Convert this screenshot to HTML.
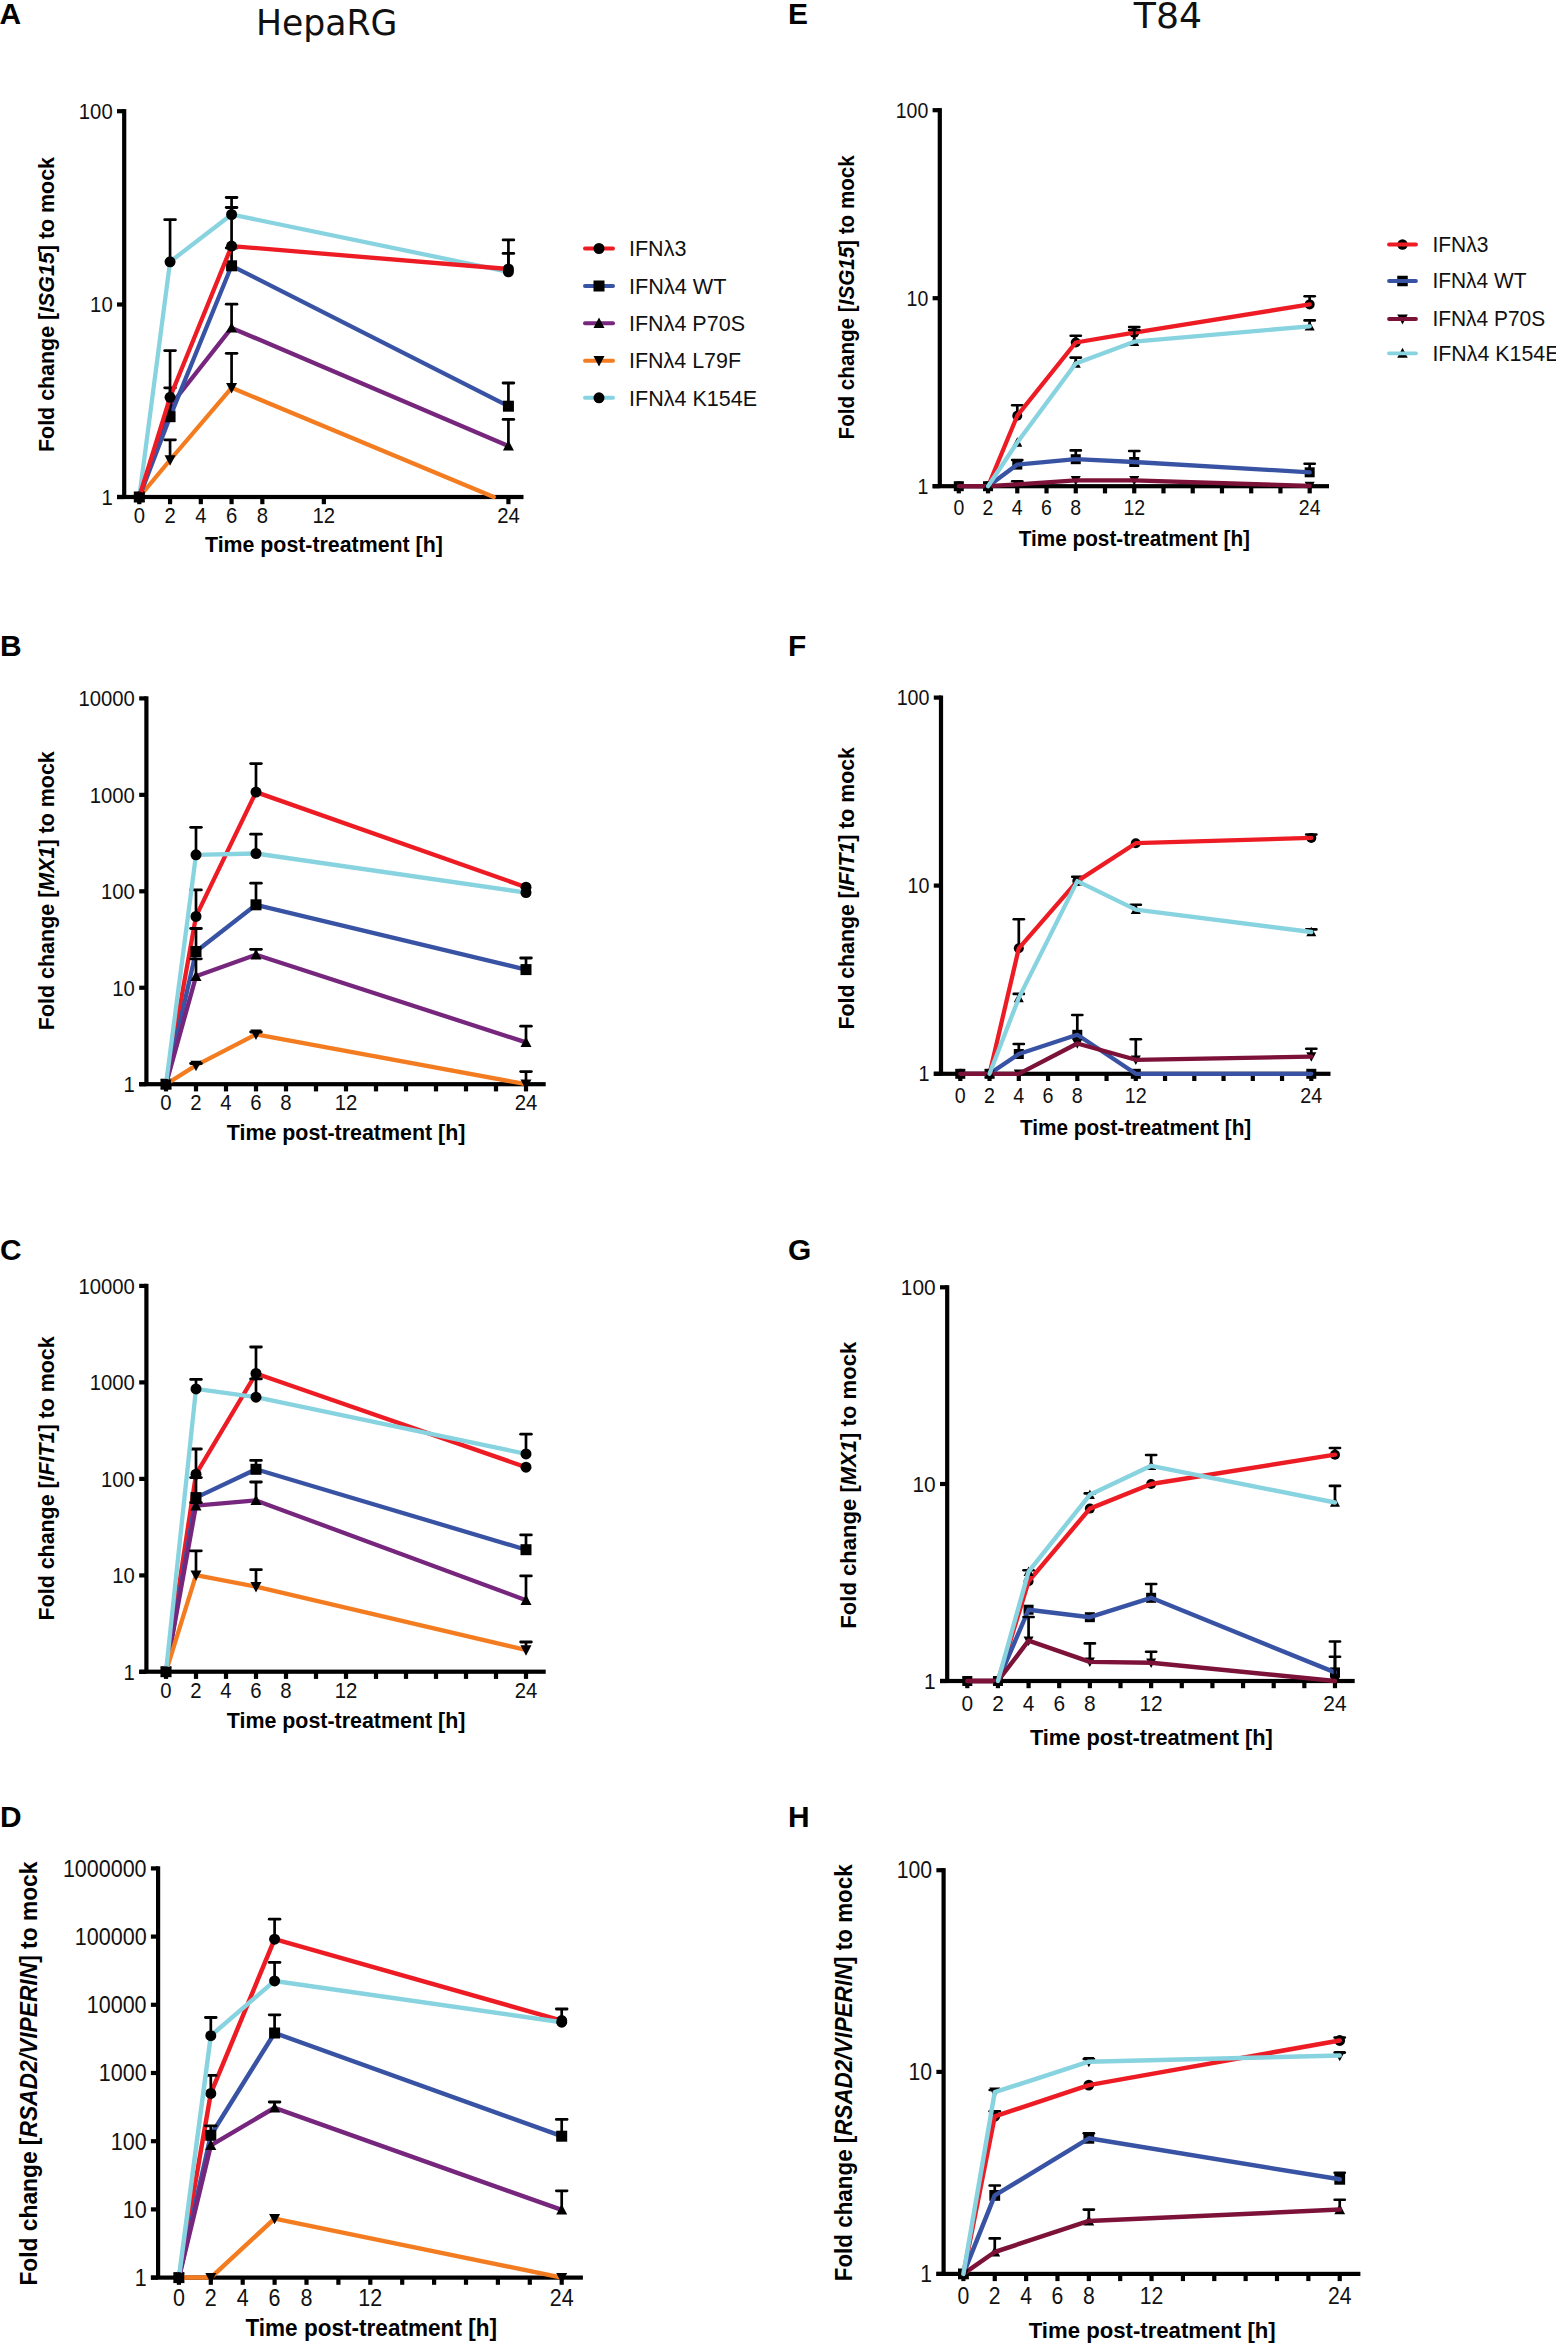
<!DOCTYPE html>
<html><head><meta charset="utf-8"><title>IFN lambda time course</title>
<style>html,body{margin:0;padding:0;background:#fff;}svg{display:block;}</style></head>
<body><svg width="1556" height="2343" viewBox="0 0 1556 2343">
<rect width="1556" height="2343" fill="#fff"/>
<g fill="#000" stroke="none">
<rect x="122.1" y="109.1" width="4.2" height="387.9"/>
<rect x="117" y="494.9" width="7.2" height="4.2"/>
<rect x="117" y="302.4" width="7.2" height="4.2"/>
<rect x="117" y="109.1" width="7.2" height="4.2"/>
<rect x="117" y="494.9" width="406.5" height="4.2"/>
<rect x="137.2" y="497" width="4.2" height="7.2"/>
<rect x="167.96" y="497" width="4.2" height="7.2"/>
<rect x="198.72" y="497" width="4.2" height="7.2"/>
<rect x="229.48" y="497" width="4.2" height="7.2"/>
<rect x="260.24" y="497" width="4.2" height="7.2"/>
<rect x="321.76" y="497" width="4.2" height="7.2"/>
<rect x="506.32" y="497" width="4.2" height="7.2"/>
</g>
<g font-family='"Liberation Sans", Arial, Helvetica, sans-serif' font-size="22.13" fill="#111" lengthAdjust="spacingAndGlyphs">
<text x="112.7" y="504.83" text-anchor="end" textLength="11.29" lengthAdjust="spacingAndGlyphs">1</text>
<text x="112.7" y="312.33" text-anchor="end" textLength="22.58" lengthAdjust="spacingAndGlyphs">10</text>
<text x="112.7" y="119.03" text-anchor="end" textLength="33.87" lengthAdjust="spacingAndGlyphs">100</text>
<text x="139.3" y="522.8" text-anchor="middle" textLength="11.29" lengthAdjust="spacingAndGlyphs">0</text>
<text x="170.06" y="522.8" text-anchor="middle" textLength="11.29" lengthAdjust="spacingAndGlyphs">2</text>
<text x="200.82" y="522.8" text-anchor="middle" textLength="11.29" lengthAdjust="spacingAndGlyphs">4</text>
<text x="231.58" y="522.8" text-anchor="middle" textLength="11.29" lengthAdjust="spacingAndGlyphs">6</text>
<text x="262.34" y="522.8" text-anchor="middle" textLength="11.29" lengthAdjust="spacingAndGlyphs">8</text>
<text x="323.86" y="522.8" text-anchor="middle" textLength="22.58" lengthAdjust="spacingAndGlyphs">12</text>
<text x="508.42" y="522.8" text-anchor="middle" textLength="22.58" lengthAdjust="spacingAndGlyphs">24</text>
</g>
<text x="205" y="552.3" font-family='"Liberation Sans", Arial, Helvetica, sans-serif' font-weight="bold" font-size="22.26" textLength="237.8" lengthAdjust="spacingAndGlyphs" fill="#000">Time post-treatment [h]</text>
<text transform="translate(53.7 452) rotate(-90)" font-family='"Liberation Sans", Arial, Helvetica, sans-serif' font-weight="bold" font-size="22.26" textLength="295" lengthAdjust="spacingAndGlyphs" fill="#000">Fold change [<tspan font-style="italic">ISG15</tspan>] to mock</text>
<text x="-0.6" y="23.8" font-family='"Liberation Sans", Arial, Helvetica, sans-serif' font-weight="bold" font-size="29.9" fill="#000">A</text>
<polyline points="139.3,497 170.06,261.8 231.58,214.5 508.42,271.8" fill="none" stroke="#88D3E0" stroke-width="4.3" stroke-linejoin="round" stroke-linecap="round"/><g stroke="#000"><line x1="170.06" y1="261.8" x2="170.06" y2="219.7" stroke-width="2.7"/><line x1="164.71" y1="219.7" x2="175.41" y2="219.7" stroke-width="2.8" stroke-linecap="round"/><line x1="231.58" y1="214.5" x2="231.58" y2="197.5" stroke-width="2.7"/><line x1="226.23" y1="197.5" x2="236.93" y2="197.5" stroke-width="2.8" stroke-linecap="round"/><line x1="508.42" y1="271.8" x2="508.42" y2="239.9" stroke-width="2.7"/><line x1="503.07" y1="239.9" x2="513.77" y2="239.9" stroke-width="2.8" stroke-linecap="round"/></g><g fill="#000"><circle cx="139.3" cy="497" r="5.5"/><circle cx="170.06" cy="261.8" r="5.5"/><circle cx="231.58" cy="214.5" r="5.5"/><circle cx="508.42" cy="271.8" r="5.5"/></g>
<polyline points="139.3,497 170.06,460 231.58,387.8 493.77,497" fill="none" stroke="#F47C20" stroke-width="4.3" stroke-linejoin="round" stroke-linecap="round"/><g stroke="#000"><line x1="170.06" y1="460" x2="170.06" y2="439.8" stroke-width="2.7"/><line x1="164.71" y1="439.8" x2="175.41" y2="439.8" stroke-width="2.8" stroke-linecap="round"/><line x1="231.58" y1="387.8" x2="231.58" y2="353.3" stroke-width="2.7"/><line x1="226.23" y1="353.3" x2="236.93" y2="353.3" stroke-width="2.8" stroke-linecap="round"/></g><g fill="#000"><path d="M139.3 502.75L144.8 492.3L133.8 492.3Z"/><path d="M170.06 465.75L175.56 455.3L164.56 455.3Z"/><path d="M231.58 393.55L237.08 383.1L226.08 383.1Z"/></g>
<polyline points="139.3,497 170.06,406 231.58,327.9 508.42,445.9" fill="none" stroke="#77267D" stroke-width="4.3" stroke-linejoin="round" stroke-linecap="round"/><g stroke="#000"><line x1="231.58" y1="327.9" x2="231.58" y2="304.2" stroke-width="2.7"/><line x1="226.23" y1="304.2" x2="236.93" y2="304.2" stroke-width="2.8" stroke-linecap="round"/><line x1="508.42" y1="445.9" x2="508.42" y2="419.4" stroke-width="2.7"/><line x1="503.07" y1="419.4" x2="513.77" y2="419.4" stroke-width="2.8" stroke-linecap="round"/></g><g fill="#000"><path d="M139.3 491.25L144.8 501.7L133.8 501.7Z"/><path d="M170.06 400.25L175.56 410.7L164.56 410.7Z"/><path d="M231.58 322.15L237.08 332.6L226.08 332.6Z"/><path d="M508.42 440.15L513.92 450.6L502.92 450.6Z"/></g>
<polyline points="139.3,497 170.06,416.7 231.58,265.8 508.42,406.2" fill="none" stroke="#3953A4" stroke-width="4.3" stroke-linejoin="round" stroke-linecap="round"/><g stroke="#000"><line x1="170.06" y1="416.7" x2="170.06" y2="387.8" stroke-width="2.7"/><line x1="164.71" y1="387.8" x2="175.41" y2="387.8" stroke-width="2.8" stroke-linecap="round"/><line x1="231.58" y1="265.8" x2="231.58" y2="248" stroke-width="2.7"/><line x1="226.23" y1="248" x2="236.93" y2="248" stroke-width="2.8" stroke-linecap="round"/><line x1="508.42" y1="406.2" x2="508.42" y2="383" stroke-width="2.7"/><line x1="503.07" y1="383" x2="513.77" y2="383" stroke-width="2.8" stroke-linecap="round"/></g><g fill="#000"><rect x="133.8" y="491.5" width="11" height="11"/><rect x="164.56" y="411.2" width="11" height="11"/><rect x="226.08" y="260.3" width="11" height="11"/><rect x="502.92" y="400.7" width="11" height="11"/></g>
<polyline points="139.3,497 170.06,397.3 231.58,246.1 508.42,269" fill="none" stroke="#ED1C24" stroke-width="4.3" stroke-linejoin="round" stroke-linecap="round"/><g stroke="#000"><line x1="170.06" y1="397.3" x2="170.06" y2="350.6" stroke-width="2.7"/><line x1="164.71" y1="350.6" x2="175.41" y2="350.6" stroke-width="2.8" stroke-linecap="round"/><line x1="231.58" y1="246.1" x2="231.58" y2="207.5" stroke-width="2.7"/><line x1="226.23" y1="207.5" x2="236.93" y2="207.5" stroke-width="2.8" stroke-linecap="round"/><line x1="508.42" y1="269" x2="508.42" y2="253.4" stroke-width="2.7"/><line x1="503.07" y1="253.4" x2="513.77" y2="253.4" stroke-width="2.8" stroke-linecap="round"/></g><g fill="#000"><circle cx="139.3" cy="497" r="5.5"/><circle cx="170.06" cy="397.3" r="5.5"/><circle cx="231.58" cy="246.1" r="5.5"/><circle cx="508.42" cy="269" r="5.5"/></g>
<g fill="#000" stroke="none">
<rect x="144.3" y="696.3" width="4.2" height="387.9"/>
<rect x="139.2" y="1082.1" width="7.2" height="4.2"/>
<rect x="139.2" y="985.65" width="7.2" height="4.2"/>
<rect x="139.2" y="889.2" width="7.2" height="4.2"/>
<rect x="139.2" y="792.75" width="7.2" height="4.2"/>
<rect x="139.2" y="696.3" width="7.2" height="4.2"/>
<rect x="139.2" y="1082.1" width="406.5" height="4.2"/>
<rect x="163.9" y="1084.2" width="4.2" height="7.2"/>
<rect x="193.9" y="1084.2" width="4.2" height="7.2"/>
<rect x="223.9" y="1084.2" width="4.2" height="7.2"/>
<rect x="253.9" y="1084.2" width="4.2" height="7.2"/>
<rect x="283.9" y="1084.2" width="4.2" height="7.2"/>
<rect x="313.9" y="1084.2" width="4.2" height="7.2"/>
<rect x="343.9" y="1084.2" width="4.2" height="7.2"/>
<rect x="373.9" y="1084.2" width="4.2" height="7.2"/>
<rect x="403.9" y="1084.2" width="4.2" height="7.2"/>
<rect x="433.9" y="1084.2" width="4.2" height="7.2"/>
<rect x="463.9" y="1084.2" width="4.2" height="7.2"/>
<rect x="493.9" y="1084.2" width="4.2" height="7.2"/>
<rect x="523.9" y="1084.2" width="4.2" height="7.2"/>
</g>
<g font-family='"Liberation Sans", Arial, Helvetica, sans-serif' font-size="22.13" fill="#111" lengthAdjust="spacingAndGlyphs">
<text x="134.9" y="1092.03" text-anchor="end" textLength="11.29" lengthAdjust="spacingAndGlyphs">1</text>
<text x="134.9" y="995.58" text-anchor="end" textLength="22.58" lengthAdjust="spacingAndGlyphs">10</text>
<text x="134.9" y="899.13" text-anchor="end" textLength="33.87" lengthAdjust="spacingAndGlyphs">100</text>
<text x="134.9" y="802.68" text-anchor="end" textLength="45.16" lengthAdjust="spacingAndGlyphs">1000</text>
<text x="134.9" y="706.23" text-anchor="end" textLength="56.45" lengthAdjust="spacingAndGlyphs">10000</text>
<text x="166" y="1110" text-anchor="middle" textLength="11.29" lengthAdjust="spacingAndGlyphs">0</text>
<text x="196" y="1110" text-anchor="middle" textLength="11.29" lengthAdjust="spacingAndGlyphs">2</text>
<text x="226" y="1110" text-anchor="middle" textLength="11.29" lengthAdjust="spacingAndGlyphs">4</text>
<text x="256" y="1110" text-anchor="middle" textLength="11.29" lengthAdjust="spacingAndGlyphs">6</text>
<text x="286" y="1110" text-anchor="middle" textLength="11.29" lengthAdjust="spacingAndGlyphs">8</text>
<text x="346" y="1110" text-anchor="middle" textLength="22.58" lengthAdjust="spacingAndGlyphs">12</text>
<text x="526" y="1110" text-anchor="middle" textLength="22.58" lengthAdjust="spacingAndGlyphs">24</text>
</g>
<text x="226.8" y="1140" font-family='"Liberation Sans", Arial, Helvetica, sans-serif' font-weight="bold" font-size="22.26" textLength="238.6" lengthAdjust="spacingAndGlyphs" fill="#000">Time post-treatment [h]</text>
<text transform="translate(53.7 1030.2) rotate(-90)" font-family='"Liberation Sans", Arial, Helvetica, sans-serif' font-weight="bold" font-size="22.26" textLength="279" lengthAdjust="spacingAndGlyphs" fill="#000">Fold change [<tspan font-style="italic">MX1</tspan>] to mock</text>
<text x="0" y="655.6" font-family='"Liberation Sans", Arial, Helvetica, sans-serif' font-weight="bold" font-size="29.9" fill="#000">B</text>
<polyline points="166,1084.2 196,916.4 256,792.1 526,887.2" fill="none" stroke="#ED1C24" stroke-width="4.3" stroke-linejoin="round" stroke-linecap="round"/><g stroke="#000"><line x1="196" y1="916.4" x2="196" y2="889.9" stroke-width="2.7"/><line x1="190.65" y1="889.9" x2="201.35" y2="889.9" stroke-width="2.8" stroke-linecap="round"/><line x1="256" y1="792.1" x2="256" y2="763.6" stroke-width="2.7"/><line x1="250.65" y1="763.6" x2="261.35" y2="763.6" stroke-width="2.8" stroke-linecap="round"/></g><g fill="#000"><circle cx="166" cy="1084.2" r="5.5"/><circle cx="196" cy="916.4" r="5.5"/><circle cx="256" cy="792.1" r="5.5"/><circle cx="526" cy="887.2" r="5.5"/></g>
<polyline points="166,1084.2 196,951.5 256,904.8 526,969.6" fill="none" stroke="#3953A4" stroke-width="4.3" stroke-linejoin="round" stroke-linecap="round"/><g stroke="#000"><line x1="196" y1="951.5" x2="196" y2="928.5" stroke-width="2.7"/><line x1="190.65" y1="928.5" x2="201.35" y2="928.5" stroke-width="2.8" stroke-linecap="round"/><line x1="256" y1="904.8" x2="256" y2="883.2" stroke-width="2.7"/><line x1="250.65" y1="883.2" x2="261.35" y2="883.2" stroke-width="2.8" stroke-linecap="round"/><line x1="526" y1="969.6" x2="526" y2="958" stroke-width="2.7"/><line x1="520.65" y1="958" x2="531.35" y2="958" stroke-width="2.8" stroke-linecap="round"/></g><g fill="#000"><rect x="160.5" y="1078.7" width="11" height="11"/><rect x="190.5" y="946" width="11" height="11"/><rect x="250.5" y="899.3" width="11" height="11"/><rect x="520.5" y="964.1" width="11" height="11"/></g>
<polyline points="166,1084.2 196,976.3 256,954.7 526,1042.4" fill="none" stroke="#77267D" stroke-width="4.3" stroke-linejoin="round" stroke-linecap="round"/><g stroke="#000"><line x1="196" y1="976.3" x2="196" y2="958.8" stroke-width="2.7"/><line x1="190.65" y1="958.8" x2="201.35" y2="958.8" stroke-width="2.8" stroke-linecap="round"/><line x1="256" y1="954.7" x2="256" y2="949.3" stroke-width="2.7"/><line x1="250.65" y1="949.3" x2="261.35" y2="949.3" stroke-width="2.8" stroke-linecap="round"/><line x1="526" y1="1042.4" x2="526" y2="1026.2" stroke-width="2.7"/><line x1="520.65" y1="1026.2" x2="531.35" y2="1026.2" stroke-width="2.8" stroke-linecap="round"/></g><g fill="#000"><path d="M166 1078.45L171.5 1088.9L160.5 1088.9Z"/><path d="M196 970.55L201.5 981L190.5 981Z"/><path d="M256 948.95L261.5 959.4L250.5 959.4Z"/><path d="M526 1036.65L531.5 1047.1L520.5 1047.1Z"/></g>
<polyline points="166,1084.2 196,1065.4 256,1034.3 526,1084.2" fill="none" stroke="#F47C20" stroke-width="4.3" stroke-linejoin="round" stroke-linecap="round"/><g stroke="#000"><line x1="196" y1="1065.4" x2="196" y2="1063.5" stroke-width="2.7"/><line x1="190.65" y1="1063.5" x2="201.35" y2="1063.5" stroke-width="2.8" stroke-linecap="round"/><line x1="256" y1="1034.3" x2="256" y2="1032" stroke-width="2.7"/><line x1="250.65" y1="1032" x2="261.35" y2="1032" stroke-width="2.8" stroke-linecap="round"/><line x1="526" y1="1084.2" x2="526" y2="1071.6" stroke-width="2.7"/><line x1="520.65" y1="1071.6" x2="531.35" y2="1071.6" stroke-width="2.8" stroke-linecap="round"/></g><g fill="#000"><path d="M166 1089.95L171.5 1079.5L160.5 1079.5Z"/><path d="M196 1071.15L201.5 1060.7L190.5 1060.7Z"/><path d="M256 1040.05L261.5 1029.6L250.5 1029.6Z"/><path d="M526 1089.95L531.5 1079.5L520.5 1079.5Z"/></g>
<polyline points="166,1084.2 196,854.8 256,853.5 526,892.6" fill="none" stroke="#88D3E0" stroke-width="4.3" stroke-linejoin="round" stroke-linecap="round"/><g stroke="#000"><line x1="196" y1="854.8" x2="196" y2="827.3" stroke-width="2.7"/><line x1="190.65" y1="827.3" x2="201.35" y2="827.3" stroke-width="2.8" stroke-linecap="round"/><line x1="256" y1="853.5" x2="256" y2="834.2" stroke-width="2.7"/><line x1="250.65" y1="834.2" x2="261.35" y2="834.2" stroke-width="2.8" stroke-linecap="round"/></g><g fill="#000"><circle cx="166" cy="1084.2" r="5.5"/><circle cx="196" cy="854.8" r="5.5"/><circle cx="256" cy="853.5" r="5.5"/><circle cx="526" cy="892.6" r="5.5"/></g>
<g fill="#000" stroke="none">
<rect x="144.3" y="1283.8" width="4.2" height="387.9"/>
<rect x="139.2" y="1669.8" width="7.2" height="4.2"/>
<rect x="139.2" y="1573.3" width="7.2" height="4.2"/>
<rect x="139.2" y="1476.8" width="7.2" height="4.2"/>
<rect x="139.2" y="1380.3" width="7.2" height="4.2"/>
<rect x="139.2" y="1283.8" width="7.2" height="4.2"/>
<rect x="139.2" y="1669.6" width="406.5" height="4.2"/>
<rect x="163.9" y="1671.7" width="4.2" height="7.2"/>
<rect x="193.9" y="1671.7" width="4.2" height="7.2"/>
<rect x="223.9" y="1671.7" width="4.2" height="7.2"/>
<rect x="253.9" y="1671.7" width="4.2" height="7.2"/>
<rect x="283.9" y="1671.7" width="4.2" height="7.2"/>
<rect x="313.9" y="1671.7" width="4.2" height="7.2"/>
<rect x="343.9" y="1671.7" width="4.2" height="7.2"/>
<rect x="373.9" y="1671.7" width="4.2" height="7.2"/>
<rect x="403.9" y="1671.7" width="4.2" height="7.2"/>
<rect x="433.9" y="1671.7" width="4.2" height="7.2"/>
<rect x="463.9" y="1671.7" width="4.2" height="7.2"/>
<rect x="493.9" y="1671.7" width="4.2" height="7.2"/>
<rect x="523.9" y="1671.7" width="4.2" height="7.2"/>
</g>
<g font-family='"Liberation Sans", Arial, Helvetica, sans-serif' font-size="22.13" fill="#111" lengthAdjust="spacingAndGlyphs">
<text x="134.9" y="1679.73" text-anchor="end" textLength="11.29" lengthAdjust="spacingAndGlyphs">1</text>
<text x="134.9" y="1583.23" text-anchor="end" textLength="22.58" lengthAdjust="spacingAndGlyphs">10</text>
<text x="134.9" y="1486.73" text-anchor="end" textLength="33.87" lengthAdjust="spacingAndGlyphs">100</text>
<text x="134.9" y="1390.23" text-anchor="end" textLength="45.16" lengthAdjust="spacingAndGlyphs">1000</text>
<text x="134.9" y="1293.73" text-anchor="end" textLength="56.45" lengthAdjust="spacingAndGlyphs">10000</text>
<text x="166" y="1697.5" text-anchor="middle" textLength="11.29" lengthAdjust="spacingAndGlyphs">0</text>
<text x="196" y="1697.5" text-anchor="middle" textLength="11.29" lengthAdjust="spacingAndGlyphs">2</text>
<text x="226" y="1697.5" text-anchor="middle" textLength="11.29" lengthAdjust="spacingAndGlyphs">4</text>
<text x="256" y="1697.5" text-anchor="middle" textLength="11.29" lengthAdjust="spacingAndGlyphs">6</text>
<text x="286" y="1697.5" text-anchor="middle" textLength="11.29" lengthAdjust="spacingAndGlyphs">8</text>
<text x="346" y="1697.5" text-anchor="middle" textLength="22.58" lengthAdjust="spacingAndGlyphs">12</text>
<text x="526" y="1697.5" text-anchor="middle" textLength="22.58" lengthAdjust="spacingAndGlyphs">24</text>
</g>
<text x="226.8" y="1727.7" font-family='"Liberation Sans", Arial, Helvetica, sans-serif' font-weight="bold" font-size="22.26" textLength="238.6" lengthAdjust="spacingAndGlyphs" fill="#000">Time post-treatment [h]</text>
<text transform="translate(53.7 1620.4) rotate(-90)" font-family='"Liberation Sans", Arial, Helvetica, sans-serif' font-weight="bold" font-size="22.26" textLength="284" lengthAdjust="spacingAndGlyphs" fill="#000">Fold change [<tspan font-style="italic">IFIT1</tspan>] to mock</text>
<text x="0" y="1260.1" font-family='"Liberation Sans", Arial, Helvetica, sans-serif' font-weight="bold" font-size="29.9" fill="#000">C</text>
<polyline points="166,1671.7 196,1474.2 256,1373.5 526,1467.2" fill="none" stroke="#ED1C24" stroke-width="4.3" stroke-linejoin="round" stroke-linecap="round"/><g stroke="#000"><line x1="196" y1="1474.2" x2="196" y2="1449" stroke-width="2.7"/><line x1="190.65" y1="1449" x2="201.35" y2="1449" stroke-width="2.8" stroke-linecap="round"/><line x1="256" y1="1373.5" x2="256" y2="1347" stroke-width="2.7"/><line x1="250.65" y1="1347" x2="261.35" y2="1347" stroke-width="2.8" stroke-linecap="round"/></g><g fill="#000"><circle cx="166" cy="1671.7" r="5.5"/><circle cx="196" cy="1474.2" r="5.5"/><circle cx="256" cy="1373.5" r="5.5"/><circle cx="526" cy="1467.2" r="5.5"/></g>
<polyline points="166,1671.7 196,1497.6 256,1469.3 526,1549.7" fill="none" stroke="#3953A4" stroke-width="4.3" stroke-linejoin="round" stroke-linecap="round"/><g stroke="#000"><line x1="196" y1="1497.6" x2="196" y2="1477.6" stroke-width="2.7"/><line x1="190.65" y1="1477.6" x2="201.35" y2="1477.6" stroke-width="2.8" stroke-linecap="round"/><line x1="256" y1="1469.3" x2="256" y2="1460.4" stroke-width="2.7"/><line x1="250.65" y1="1460.4" x2="261.35" y2="1460.4" stroke-width="2.8" stroke-linecap="round"/><line x1="526" y1="1549.7" x2="526" y2="1534.9" stroke-width="2.7"/><line x1="520.65" y1="1534.9" x2="531.35" y2="1534.9" stroke-width="2.8" stroke-linecap="round"/></g><g fill="#000"><rect x="160.5" y="1666.2" width="11" height="11"/><rect x="190.5" y="1492.1" width="11" height="11"/><rect x="250.5" y="1463.8" width="11" height="11"/><rect x="520.5" y="1544.2" width="11" height="11"/></g>
<polyline points="166,1671.7 196,1505.7 256,1500.4 526,1600.2" fill="none" stroke="#77267D" stroke-width="4.3" stroke-linejoin="round" stroke-linecap="round"/><g stroke="#000"><line x1="196" y1="1505.7" x2="196" y2="1502.6" stroke-width="2.7"/><line x1="190.65" y1="1502.6" x2="201.35" y2="1502.6" stroke-width="2.8" stroke-linecap="round"/><line x1="256" y1="1500.4" x2="256" y2="1482" stroke-width="2.7"/><line x1="250.65" y1="1482" x2="261.35" y2="1482" stroke-width="2.8" stroke-linecap="round"/><line x1="526" y1="1600.2" x2="526" y2="1575.9" stroke-width="2.7"/><line x1="520.65" y1="1575.9" x2="531.35" y2="1575.9" stroke-width="2.8" stroke-linecap="round"/></g><g fill="#000"><path d="M166 1665.95L171.5 1676.4L160.5 1676.4Z"/><path d="M196 1499.95L201.5 1510.4L190.5 1510.4Z"/><path d="M256 1494.65L261.5 1505.1L250.5 1505.1Z"/><path d="M526 1594.45L531.5 1604.9L520.5 1604.9Z"/></g>
<polyline points="166,1671.7 196,1575.1 256,1586.7 526,1650" fill="none" stroke="#F47C20" stroke-width="4.3" stroke-linejoin="round" stroke-linecap="round"/><g stroke="#000"><line x1="196" y1="1575.1" x2="196" y2="1550.8" stroke-width="2.7"/><line x1="190.65" y1="1550.8" x2="201.35" y2="1550.8" stroke-width="2.8" stroke-linecap="round"/><line x1="256" y1="1586.7" x2="256" y2="1569.7" stroke-width="2.7"/><line x1="250.65" y1="1569.7" x2="261.35" y2="1569.7" stroke-width="2.8" stroke-linecap="round"/><line x1="526" y1="1650" x2="526" y2="1642" stroke-width="2.7"/><line x1="520.65" y1="1642" x2="531.35" y2="1642" stroke-width="2.8" stroke-linecap="round"/></g><g fill="#000"><path d="M166 1677.45L171.5 1667L160.5 1667Z"/><path d="M196 1580.85L201.5 1570.4L190.5 1570.4Z"/><path d="M256 1592.45L261.5 1582L250.5 1582Z"/><path d="M526 1655.75L531.5 1645.3L520.5 1645.3Z"/></g>
<polyline points="166,1671.7 196,1388.9 256,1397.2 526,1453.9" fill="none" stroke="#88D3E0" stroke-width="4.3" stroke-linejoin="round" stroke-linecap="round"/><g stroke="#000"><line x1="196" y1="1388.9" x2="196" y2="1379.4" stroke-width="2.7"/><line x1="190.65" y1="1379.4" x2="201.35" y2="1379.4" stroke-width="2.8" stroke-linecap="round"/><line x1="256" y1="1397.2" x2="256" y2="1378.9" stroke-width="2.7"/><line x1="250.65" y1="1378.9" x2="261.35" y2="1378.9" stroke-width="2.8" stroke-linecap="round"/><line x1="526" y1="1453.9" x2="526" y2="1434.2" stroke-width="2.7"/><line x1="520.65" y1="1434.2" x2="531.35" y2="1434.2" stroke-width="2.8" stroke-linecap="round"/></g><g fill="#000"><circle cx="166" cy="1671.7" r="5.5"/><circle cx="196" cy="1388.9" r="5.5"/><circle cx="256" cy="1397.2" r="5.5"/><circle cx="526" cy="1453.9" r="5.5"/></g>
<g fill="#000" stroke="none">
<rect x="156" y="1866.3" width="4.2" height="411.3"/>
<rect x="150.9" y="2275.5" width="7.2" height="4.2"/>
<rect x="150.9" y="2207.3" width="7.2" height="4.2"/>
<rect x="150.9" y="2139.1" width="7.2" height="4.2"/>
<rect x="150.9" y="2070.9" width="7.2" height="4.2"/>
<rect x="150.9" y="2002.7" width="7.2" height="4.2"/>
<rect x="150.9" y="1934.5" width="7.2" height="4.2"/>
<rect x="150.9" y="1866.3" width="7.2" height="4.2"/>
<rect x="150.9" y="2275.5" width="432" height="4.2"/>
<rect x="176.8" y="2277.6" width="4.2" height="7.2"/>
<rect x="208.7" y="2277.6" width="4.2" height="7.2"/>
<rect x="240.6" y="2277.6" width="4.2" height="7.2"/>
<rect x="272.5" y="2277.6" width="4.2" height="7.2"/>
<rect x="304.4" y="2277.6" width="4.2" height="7.2"/>
<rect x="336.3" y="2277.6" width="4.2" height="7.2"/>
<rect x="368.2" y="2277.6" width="4.2" height="7.2"/>
<rect x="400.1" y="2277.6" width="4.2" height="7.2"/>
<rect x="432" y="2277.6" width="4.2" height="7.2"/>
<rect x="463.9" y="2277.6" width="4.2" height="7.2"/>
<rect x="495.8" y="2277.6" width="4.2" height="7.2"/>
<rect x="527.7" y="2277.6" width="4.2" height="7.2"/>
<rect x="559.6" y="2277.6" width="4.2" height="7.2"/>
</g>
<g font-family='"Liberation Sans", Arial, Helvetica, sans-serif' font-size="23.44" fill="#111" lengthAdjust="spacingAndGlyphs">
<text x="146.6" y="2285.9" text-anchor="end" textLength="11.96" lengthAdjust="spacingAndGlyphs">1</text>
<text x="146.6" y="2217.7" text-anchor="end" textLength="23.92" lengthAdjust="spacingAndGlyphs">10</text>
<text x="146.6" y="2149.5" text-anchor="end" textLength="35.87" lengthAdjust="spacingAndGlyphs">100</text>
<text x="146.6" y="2081.3" text-anchor="end" textLength="47.83" lengthAdjust="spacingAndGlyphs">1000</text>
<text x="146.6" y="2013.1" text-anchor="end" textLength="59.79" lengthAdjust="spacingAndGlyphs">10000</text>
<text x="146.6" y="1944.9" text-anchor="end" textLength="71.75" lengthAdjust="spacingAndGlyphs">100000</text>
<text x="146.6" y="1876.7" text-anchor="end" textLength="83.71" lengthAdjust="spacingAndGlyphs">1000000</text>
<text x="178.9" y="2305.5" text-anchor="middle" textLength="11.96" lengthAdjust="spacingAndGlyphs">0</text>
<text x="210.8" y="2305.5" text-anchor="middle" textLength="11.96" lengthAdjust="spacingAndGlyphs">2</text>
<text x="242.7" y="2305.5" text-anchor="middle" textLength="11.96" lengthAdjust="spacingAndGlyphs">4</text>
<text x="274.6" y="2305.5" text-anchor="middle" textLength="11.96" lengthAdjust="spacingAndGlyphs">6</text>
<text x="306.5" y="2305.5" text-anchor="middle" textLength="11.96" lengthAdjust="spacingAndGlyphs">8</text>
<text x="370.3" y="2305.5" text-anchor="middle" textLength="23.92" lengthAdjust="spacingAndGlyphs">12</text>
<text x="561.7" y="2305.5" text-anchor="middle" textLength="23.92" lengthAdjust="spacingAndGlyphs">24</text>
</g>
<text x="245.4" y="2336.3" font-family='"Liberation Sans", Arial, Helvetica, sans-serif' font-weight="bold" font-size="23.5" textLength="251.6" lengthAdjust="spacingAndGlyphs" fill="#000">Time post-treatment [h]</text>
<text transform="translate(36.8 2285.6) rotate(-90)" font-family='"Liberation Sans", Arial, Helvetica, sans-serif' font-weight="bold" font-size="23.5" textLength="424" lengthAdjust="spacingAndGlyphs" fill="#000">Fold change [<tspan font-style="italic">RSAD2/VIPERIN</tspan>] to mock</text>
<text x="0" y="1827.3" font-family='"Liberation Sans", Arial, Helvetica, sans-serif' font-weight="bold" font-size="29.9" fill="#000">D</text>
<polyline points="178.9,2277.6 210.8,2093.4 274.6,1939.2 561.7,2020.6" fill="none" stroke="#ED1C24" stroke-width="4.5" stroke-linejoin="round" stroke-linecap="round"/><g stroke="#000"><line x1="210.8" y1="2093.4" x2="210.8" y2="2075.4" stroke-width="2.7"/><line x1="205.45" y1="2075.4" x2="216.15" y2="2075.4" stroke-width="2.8" stroke-linecap="round"/><line x1="274.6" y1="1939.2" x2="274.6" y2="1919.2" stroke-width="2.7"/><line x1="269.25" y1="1919.2" x2="279.95" y2="1919.2" stroke-width="2.8" stroke-linecap="round"/><line x1="561.7" y1="2020.6" x2="561.7" y2="2009" stroke-width="2.7"/><line x1="556.35" y1="2009" x2="567.05" y2="2009" stroke-width="2.8" stroke-linecap="round"/></g><g fill="#000"><circle cx="178.9" cy="2277.6" r="5.5"/><circle cx="210.8" cy="2093.4" r="5.5"/><circle cx="274.6" cy="1939.2" r="5.5"/><circle cx="561.7" cy="2020.6" r="5.5"/></g>
<polyline points="178.9,2277.6 210.8,2135.3 274.6,2033 561.7,2136.2" fill="none" stroke="#3953A4" stroke-width="4.5" stroke-linejoin="round" stroke-linecap="round"/><g stroke="#000"><line x1="210.8" y1="2135.3" x2="210.8" y2="2125.8" stroke-width="2.7"/><line x1="205.45" y1="2125.8" x2="216.15" y2="2125.8" stroke-width="2.8" stroke-linecap="round"/><line x1="274.6" y1="2033" x2="274.6" y2="2014.8" stroke-width="2.7"/><line x1="269.25" y1="2014.8" x2="279.95" y2="2014.8" stroke-width="2.8" stroke-linecap="round"/><line x1="561.7" y1="2136.2" x2="561.7" y2="2119.4" stroke-width="2.7"/><line x1="556.35" y1="2119.4" x2="567.05" y2="2119.4" stroke-width="2.8" stroke-linecap="round"/></g><g fill="#000"><rect x="173.4" y="2272.1" width="11" height="11"/><rect x="205.3" y="2129.8" width="11" height="11"/><rect x="269.1" y="2027.5" width="11" height="11"/><rect x="556.2" y="2130.7" width="11" height="11"/></g>
<polyline points="178.9,2277.6 210.8,2145.4 274.6,2107.8 561.7,2209.9" fill="none" stroke="#77267D" stroke-width="4.5" stroke-linejoin="round" stroke-linecap="round"/><g stroke="#000"><line x1="274.6" y1="2107.8" x2="274.6" y2="2102" stroke-width="2.7"/><line x1="269.25" y1="2102" x2="279.95" y2="2102" stroke-width="2.8" stroke-linecap="round"/><line x1="561.7" y1="2209.9" x2="561.7" y2="2190.8" stroke-width="2.7"/><line x1="556.35" y1="2190.8" x2="567.05" y2="2190.8" stroke-width="2.8" stroke-linecap="round"/></g><g fill="#000"><path d="M178.9 2271.85L184.4 2282.3L173.4 2282.3Z"/><path d="M210.8 2139.65L216.3 2150.1L205.3 2150.1Z"/><path d="M274.6 2102.05L280.1 2112.5L269.1 2112.5Z"/><path d="M561.7 2204.15L567.2 2214.6L556.2 2214.6Z"/></g>
<polyline points="178.9,2277.6 210.8,2277.6 274.6,2218.6 561.7,2277.6" fill="none" stroke="#F47C20" stroke-width="4.5" stroke-linejoin="round" stroke-linecap="round"/><g fill="#000"><path d="M178.9 2283.35L184.4 2272.9L173.4 2272.9Z"/><path d="M210.8 2283.35L216.3 2272.9L205.3 2272.9Z"/><path d="M274.6 2224.35L280.1 2213.9L269.1 2213.9Z"/><path d="M561.7 2283.35L567.2 2272.9L556.2 2272.9Z"/></g>
<polyline points="178.9,2277.6 210.8,2035.7 274.6,1980.9 561.7,2022.2" fill="none" stroke="#88D3E0" stroke-width="4.5" stroke-linejoin="round" stroke-linecap="round"/><g stroke="#000"><line x1="210.8" y1="2035.7" x2="210.8" y2="2017.5" stroke-width="2.7"/><line x1="205.45" y1="2017.5" x2="216.15" y2="2017.5" stroke-width="2.8" stroke-linecap="round"/><line x1="274.6" y1="1980.9" x2="274.6" y2="1962.4" stroke-width="2.7"/><line x1="269.25" y1="1962.4" x2="279.95" y2="1962.4" stroke-width="2.8" stroke-linecap="round"/></g><g fill="#000"><circle cx="178.9" cy="2277.6" r="5.5"/><circle cx="210.8" cy="2035.7" r="5.5"/><circle cx="274.6" cy="1980.9" r="5.5"/><circle cx="561.7" cy="2022.2" r="5.5"/></g>
<g fill="#000" stroke="none">
<rect x="937.7" y="108.1" width="4.2" height="378.1"/>
<rect x="932.6" y="484.1" width="7.2" height="4.2"/>
<rect x="932.6" y="296.1" width="7.2" height="4.2"/>
<rect x="932.6" y="108.1" width="7.2" height="4.2"/>
<rect x="932.6" y="484.1" width="396.4" height="4.2"/>
<rect x="956.7" y="486.2" width="4.2" height="7.2"/>
<rect x="985.94" y="486.2" width="4.2" height="7.2"/>
<rect x="1015.18" y="486.2" width="4.2" height="7.2"/>
<rect x="1044.42" y="486.2" width="4.2" height="7.2"/>
<rect x="1073.66" y="486.2" width="4.2" height="7.2"/>
<rect x="1102.9" y="486.2" width="4.2" height="7.2"/>
<rect x="1132.14" y="486.2" width="4.2" height="7.2"/>
<rect x="1161.38" y="486.2" width="4.2" height="7.2"/>
<rect x="1190.62" y="486.2" width="4.2" height="7.2"/>
<rect x="1219.86" y="486.2" width="4.2" height="7.2"/>
<rect x="1249.1" y="486.2" width="4.2" height="7.2"/>
<rect x="1278.34" y="486.2" width="4.2" height="7.2"/>
<rect x="1307.58" y="486.2" width="4.2" height="7.2"/>
</g>
<g font-family='"Liberation Sans", Arial, Helvetica, sans-serif' font-size="21.26" fill="#111" lengthAdjust="spacingAndGlyphs">
<text x="928.3" y="493.72" text-anchor="end" textLength="10.85" lengthAdjust="spacingAndGlyphs">1</text>
<text x="928.3" y="305.72" text-anchor="end" textLength="21.69" lengthAdjust="spacingAndGlyphs">10</text>
<text x="928.3" y="117.72" text-anchor="end" textLength="32.54" lengthAdjust="spacingAndGlyphs">100</text>
<text x="958.8" y="515.2" text-anchor="middle" textLength="10.85" lengthAdjust="spacingAndGlyphs">0</text>
<text x="988.04" y="515.2" text-anchor="middle" textLength="10.85" lengthAdjust="spacingAndGlyphs">2</text>
<text x="1017.28" y="515.2" text-anchor="middle" textLength="10.85" lengthAdjust="spacingAndGlyphs">4</text>
<text x="1046.52" y="515.2" text-anchor="middle" textLength="10.85" lengthAdjust="spacingAndGlyphs">6</text>
<text x="1075.76" y="515.2" text-anchor="middle" textLength="10.85" lengthAdjust="spacingAndGlyphs">8</text>
<text x="1134.24" y="515.2" text-anchor="middle" textLength="21.69" lengthAdjust="spacingAndGlyphs">12</text>
<text x="1309.68" y="515.2" text-anchor="middle" textLength="21.69" lengthAdjust="spacingAndGlyphs">24</text>
</g>
<text x="1018.7" y="546" font-family='"Liberation Sans", Arial, Helvetica, sans-serif' font-weight="bold" font-size="21.63" textLength="231.3" lengthAdjust="spacingAndGlyphs" fill="#000">Time post-treatment [h]</text>
<text transform="translate(854 439.4) rotate(-90)" font-family='"Liberation Sans", Arial, Helvetica, sans-serif' font-weight="bold" font-size="22.26" textLength="284.2" lengthAdjust="spacingAndGlyphs" fill="#000">Fold change [<tspan font-style="italic">ISG15</tspan>] to mock</text>
<text x="788.1" y="24.1" font-family='"Liberation Sans", Arial, Helvetica, sans-serif' font-weight="bold" font-size="29.9" fill="#000">E</text>
<g fill="#000"><circle cx="958.8" cy="486.2" r="5"/><circle cx="988.04" cy="486.2" r="5"/><circle cx="1017.28" cy="415.7" r="5"/><circle cx="1075.76" cy="342.5" r="5"/><circle cx="1134.24" cy="332.7" r="5"/><circle cx="1309.68" cy="304.4" r="5"/></g><g stroke="#000"><line x1="1017.28" y1="415.7" x2="1017.28" y2="405.2" stroke-width="2.7"/><line x1="1012.18" y1="405.2" x2="1022.38" y2="405.2" stroke-width="2.6" stroke-linecap="round"/><line x1="1075.76" y1="342.5" x2="1075.76" y2="335.8" stroke-width="2.7"/><line x1="1070.66" y1="335.8" x2="1080.86" y2="335.8" stroke-width="2.6" stroke-linecap="round"/><line x1="1134.24" y1="332.7" x2="1134.24" y2="327" stroke-width="2.7"/><line x1="1129.14" y1="327" x2="1139.34" y2="327" stroke-width="2.6" stroke-linecap="round"/><line x1="1309.68" y1="304.4" x2="1309.68" y2="296.2" stroke-width="2.7"/><line x1="1304.58" y1="296.2" x2="1314.78" y2="296.2" stroke-width="2.6" stroke-linecap="round"/></g><polyline points="958.8,486.2 988.04,486.2 1017.28,415.7 1075.76,342.5 1134.24,332.7 1309.68,304.4" fill="none" stroke="#ED1C24" stroke-width="4.3" stroke-linejoin="round" stroke-linecap="round"/>
<g fill="#000"><rect x="953.8" y="481.2" width="10" height="10"/><rect x="983.04" y="481.2" width="10" height="10"/><rect x="1012.28" y="459.6" width="10" height="10"/><rect x="1070.76" y="454.2" width="10" height="10"/><rect x="1129.24" y="457" width="10" height="10"/><rect x="1304.68" y="467.3" width="10" height="10"/></g><g stroke="#000"><line x1="1017.28" y1="464.6" x2="1017.28" y2="460" stroke-width="2.7"/><line x1="1012.18" y1="460" x2="1022.38" y2="460" stroke-width="2.6" stroke-linecap="round"/><line x1="1075.76" y1="459.2" x2="1075.76" y2="450.4" stroke-width="2.7"/><line x1="1070.66" y1="450.4" x2="1080.86" y2="450.4" stroke-width="2.6" stroke-linecap="round"/><line x1="1134.24" y1="462" x2="1134.24" y2="451" stroke-width="2.7"/><line x1="1129.14" y1="451" x2="1139.34" y2="451" stroke-width="2.6" stroke-linecap="round"/><line x1="1309.68" y1="472.3" x2="1309.68" y2="463.8" stroke-width="2.7"/><line x1="1304.58" y1="463.8" x2="1314.78" y2="463.8" stroke-width="2.6" stroke-linecap="round"/></g><polyline points="958.8,486.2 988.04,486.2 1017.28,464.6 1075.76,459.2 1134.24,462 1309.68,472.3" fill="none" stroke="#3953A4" stroke-width="4.3" stroke-linejoin="round" stroke-linecap="round"/>
<g fill="#000"><path d="M958.8 491.43L963.8 481.93L953.8 481.93Z"/><path d="M988.04 491.43L993.04 481.93L983.04 481.93Z"/><path d="M1017.28 489.62L1022.28 480.12L1012.28 480.12Z"/><path d="M1075.76 485.53L1080.76 476.03L1070.76 476.03Z"/><path d="M1134.24 485.53L1139.24 476.03L1129.24 476.03Z"/><path d="M1309.68 491.23L1314.68 481.73L1304.68 481.73Z"/></g><g stroke="#000"><line x1="1017.28" y1="484.4" x2="1017.28" y2="481.3" stroke-width="2.7"/><line x1="1012.18" y1="481.3" x2="1022.38" y2="481.3" stroke-width="2.6" stroke-linecap="round"/></g><polyline points="958.8,486.2 988.04,486.2 1017.28,484.4 1075.76,480.3 1134.24,480.3 1309.68,486" fill="none" stroke="#7D1238" stroke-width="4.3" stroke-linejoin="round" stroke-linecap="round"/>
<g fill="#000"><path d="M988.04 480.97L993.04 490.47L983.04 490.47Z"/><path d="M1017.28 437.27L1022.28 446.77L1012.28 446.77Z"/><path d="M1075.76 358.27L1080.76 367.77L1070.76 367.77Z"/><path d="M1134.24 336.47L1139.24 345.97L1129.24 345.97Z"/><path d="M1309.68 321.07L1314.68 330.57L1304.68 330.57Z"/></g><g stroke="#000"><line x1="1075.76" y1="363.5" x2="1075.76" y2="357.6" stroke-width="2.7"/><line x1="1070.66" y1="357.6" x2="1080.86" y2="357.6" stroke-width="2.6" stroke-linecap="round"/><line x1="1134.24" y1="341.7" x2="1134.24" y2="330" stroke-width="2.7"/><line x1="1129.14" y1="330" x2="1139.34" y2="330" stroke-width="2.6" stroke-linecap="round"/><line x1="1309.68" y1="326.3" x2="1309.68" y2="320.4" stroke-width="2.7"/><line x1="1304.58" y1="320.4" x2="1314.78" y2="320.4" stroke-width="2.6" stroke-linecap="round"/></g><polyline points="988.04,486.2 1017.28,442.5 1075.76,363.5 1134.24,341.7 1309.68,326.3" fill="none" stroke="#88D3E0" stroke-width="4.3" stroke-linejoin="round" stroke-linecap="round"/>
<g fill="#000" stroke="none">
<rect x="938.9" y="695.5" width="4.2" height="378.3"/>
<rect x="933.8" y="1071.7" width="7.2" height="4.2"/>
<rect x="933.8" y="883.5" width="7.2" height="4.2"/>
<rect x="933.8" y="695.5" width="7.2" height="4.2"/>
<rect x="933.8" y="1071.7" width="396.7" height="4.2"/>
<rect x="958.2" y="1073.8" width="4.2" height="7.2"/>
<rect x="987.45" y="1073.8" width="4.2" height="7.2"/>
<rect x="1016.7" y="1073.8" width="4.2" height="7.2"/>
<rect x="1045.95" y="1073.8" width="4.2" height="7.2"/>
<rect x="1075.2" y="1073.8" width="4.2" height="7.2"/>
<rect x="1104.45" y="1073.8" width="4.2" height="7.2"/>
<rect x="1133.7" y="1073.8" width="4.2" height="7.2"/>
<rect x="1162.95" y="1073.8" width="4.2" height="7.2"/>
<rect x="1192.2" y="1073.8" width="4.2" height="7.2"/>
<rect x="1221.45" y="1073.8" width="4.2" height="7.2"/>
<rect x="1250.7" y="1073.8" width="4.2" height="7.2"/>
<rect x="1279.95" y="1073.8" width="4.2" height="7.2"/>
<rect x="1309.2" y="1073.8" width="4.2" height="7.2"/>
</g>
<g font-family='"Liberation Sans", Arial, Helvetica, sans-serif' font-size="21.47" fill="#111" lengthAdjust="spacingAndGlyphs">
<text x="929.5" y="1081.4" text-anchor="end" textLength="10.96" lengthAdjust="spacingAndGlyphs">1</text>
<text x="929.5" y="893.2" text-anchor="end" textLength="21.91" lengthAdjust="spacingAndGlyphs">10</text>
<text x="929.5" y="705.2" text-anchor="end" textLength="32.87" lengthAdjust="spacingAndGlyphs">100</text>
<text x="960.3" y="1102.8" text-anchor="middle" textLength="10.96" lengthAdjust="spacingAndGlyphs">0</text>
<text x="989.55" y="1102.8" text-anchor="middle" textLength="10.96" lengthAdjust="spacingAndGlyphs">2</text>
<text x="1018.8" y="1102.8" text-anchor="middle" textLength="10.96" lengthAdjust="spacingAndGlyphs">4</text>
<text x="1048.05" y="1102.8" text-anchor="middle" textLength="10.96" lengthAdjust="spacingAndGlyphs">6</text>
<text x="1077.3" y="1102.8" text-anchor="middle" textLength="10.96" lengthAdjust="spacingAndGlyphs">8</text>
<text x="1135.8" y="1102.8" text-anchor="middle" textLength="21.91" lengthAdjust="spacingAndGlyphs">12</text>
<text x="1311.3" y="1102.8" text-anchor="middle" textLength="21.91" lengthAdjust="spacingAndGlyphs">24</text>
</g>
<text x="1019.9" y="1134.8" font-family='"Liberation Sans", Arial, Helvetica, sans-serif' font-weight="bold" font-size="21.63" textLength="231.4" lengthAdjust="spacingAndGlyphs" fill="#000">Time post-treatment [h]</text>
<text transform="translate(854 1029.5) rotate(-90)" font-family='"Liberation Sans", Arial, Helvetica, sans-serif' font-weight="bold" font-size="22.26" textLength="282.3" lengthAdjust="spacingAndGlyphs" fill="#000">Fold change [<tspan font-style="italic">IFIT1</tspan>] to mock</text>
<text x="788.1" y="656.4" font-family='"Liberation Sans", Arial, Helvetica, sans-serif' font-weight="bold" font-size="29.9" fill="#000">F</text>
<g fill="#000"><circle cx="960.3" cy="1073.8" r="5"/><circle cx="989.55" cy="1073.8" r="5"/><circle cx="1018.8" cy="948.3" r="5"/><circle cx="1077.3" cy="881.1" r="5"/><circle cx="1135.8" cy="843.2" r="5"/><circle cx="1311.3" cy="837.9" r="5"/></g><g stroke="#000"><line x1="1018.8" y1="948.3" x2="1018.8" y2="919.3" stroke-width="2.7"/><line x1="1013.7" y1="919.3" x2="1023.9" y2="919.3" stroke-width="2.6" stroke-linecap="round"/><line x1="1077.3" y1="881.1" x2="1077.3" y2="876.7" stroke-width="2.7"/><line x1="1072.2" y1="876.7" x2="1082.4" y2="876.7" stroke-width="2.6" stroke-linecap="round"/><line x1="1311.3" y1="837.9" x2="1311.3" y2="834.5" stroke-width="2.7"/><line x1="1306.2" y1="834.5" x2="1316.4" y2="834.5" stroke-width="2.6" stroke-linecap="round"/></g><polyline points="960.3,1073.8 989.55,1073.8 1018.8,948.3 1077.3,881.1 1135.8,843.2 1311.3,837.9" fill="none" stroke="#ED1C24" stroke-width="4.3" stroke-linejoin="round" stroke-linecap="round"/>
<g fill="#000"><rect x="955.3" y="1068.8" width="10" height="10"/><rect x="984.55" y="1068.8" width="10" height="10"/><rect x="1013.8" y="1049" width="10" height="10"/><rect x="1072.3" y="1029.8" width="10" height="10"/><rect x="1130.8" y="1068.8" width="10" height="10"/><rect x="1306.3" y="1068.8" width="10" height="10"/></g><g stroke="#000"><line x1="1018.8" y1="1054" x2="1018.8" y2="1044" stroke-width="2.7"/><line x1="1013.7" y1="1044" x2="1023.9" y2="1044" stroke-width="2.6" stroke-linecap="round"/><line x1="1077.3" y1="1034.8" x2="1077.3" y2="1015" stroke-width="2.7"/><line x1="1072.2" y1="1015" x2="1082.4" y2="1015" stroke-width="2.6" stroke-linecap="round"/></g><polyline points="960.3,1073.8 989.55,1073.8 1018.8,1054 1077.3,1034.8 1135.8,1073.8 1311.3,1073.8" fill="none" stroke="#3953A4" stroke-width="4.3" stroke-linejoin="round" stroke-linecap="round"/>
<g fill="#000"><path d="M960.3 1079.02L965.3 1069.52L955.3 1069.52Z"/><path d="M989.55 1079.02L994.55 1069.52L984.55 1069.52Z"/><path d="M1018.8 1079.02L1023.8 1069.52L1013.8 1069.52Z"/><path d="M1077.3 1048.72L1082.3 1039.22L1072.3 1039.22Z"/><path d="M1135.8 1065.02L1140.8 1055.52L1130.8 1055.52Z"/><path d="M1311.3 1061.82L1316.3 1052.32L1306.3 1052.32Z"/></g><g stroke="#000"><line x1="1135.8" y1="1059.8" x2="1135.8" y2="1039.2" stroke-width="2.7"/><line x1="1130.7" y1="1039.2" x2="1140.9" y2="1039.2" stroke-width="2.6" stroke-linecap="round"/><line x1="1311.3" y1="1056.6" x2="1311.3" y2="1048.7" stroke-width="2.7"/><line x1="1306.2" y1="1048.7" x2="1316.4" y2="1048.7" stroke-width="2.6" stroke-linecap="round"/></g><polyline points="960.3,1073.8 989.55,1073.8 1018.8,1073.8 1077.3,1043.5 1135.8,1059.8 1311.3,1056.6" fill="none" stroke="#7D1238" stroke-width="4.3" stroke-linejoin="round" stroke-linecap="round"/>
<g fill="#000"><path d="M989.55 1068.58L994.55 1078.08L984.55 1078.08Z"/><path d="M1018.8 992.67L1023.8 1002.17L1013.8 1002.17Z"/><path d="M1077.3 875.88L1082.3 885.38L1072.3 885.38Z"/><path d="M1135.8 904.38L1140.8 913.88L1130.8 913.88Z"/><path d="M1311.3 926.77L1316.3 936.27L1306.3 936.27Z"/></g><g stroke="#000"><line x1="1018.8" y1="997.9" x2="1018.8" y2="993.9" stroke-width="2.7"/><line x1="1013.7" y1="993.9" x2="1023.9" y2="993.9" stroke-width="2.6" stroke-linecap="round"/><line x1="1135.8" y1="909.6" x2="1135.8" y2="904.8" stroke-width="2.7"/><line x1="1130.7" y1="904.8" x2="1140.9" y2="904.8" stroke-width="2.6" stroke-linecap="round"/><line x1="1311.3" y1="932" x2="1311.3" y2="929.4" stroke-width="2.7"/><line x1="1306.2" y1="929.4" x2="1316.4" y2="929.4" stroke-width="2.6" stroke-linecap="round"/></g><polyline points="989.55,1073.8 1018.8,997.9 1077.3,881.1 1135.8,909.6 1311.3,932" fill="none" stroke="#88D3E0" stroke-width="4.3" stroke-linejoin="round" stroke-linecap="round"/>
<g fill="#000" stroke="none">
<rect x="945.1" y="1285.2" width="4.2" height="395.8"/>
<rect x="940" y="1678.9" width="7.2" height="4.2"/>
<rect x="940" y="1481.9" width="7.2" height="4.2"/>
<rect x="940" y="1285.2" width="7.2" height="4.2"/>
<rect x="940" y="1678.9" width="414.7" height="4.2"/>
<rect x="965.2" y="1681" width="4.2" height="7.2"/>
<rect x="995.84" y="1681" width="4.2" height="7.2"/>
<rect x="1026.48" y="1681" width="4.2" height="7.2"/>
<rect x="1057.12" y="1681" width="4.2" height="7.2"/>
<rect x="1087.76" y="1681" width="4.2" height="7.2"/>
<rect x="1118.4" y="1681" width="4.2" height="7.2"/>
<rect x="1149.04" y="1681" width="4.2" height="7.2"/>
<rect x="1179.68" y="1681" width="4.2" height="7.2"/>
<rect x="1210.32" y="1681" width="4.2" height="7.2"/>
<rect x="1240.96" y="1681" width="4.2" height="7.2"/>
<rect x="1271.6" y="1681" width="4.2" height="7.2"/>
<rect x="1302.24" y="1681" width="4.2" height="7.2"/>
<rect x="1332.88" y="1681" width="4.2" height="7.2"/>
</g>
<g font-family='"Liberation Sans", Arial, Helvetica, sans-serif' font-size="22.78" fill="#111" lengthAdjust="spacingAndGlyphs">
<text x="935.7" y="1689.06" text-anchor="end" textLength="11.62" lengthAdjust="spacingAndGlyphs">1</text>
<text x="935.7" y="1492.06" text-anchor="end" textLength="23.25" lengthAdjust="spacingAndGlyphs">10</text>
<text x="935.7" y="1295.36" text-anchor="end" textLength="34.87" lengthAdjust="spacingAndGlyphs">100</text>
<text x="967.3" y="1710.9" text-anchor="middle" textLength="11.62" lengthAdjust="spacingAndGlyphs">0</text>
<text x="997.94" y="1710.9" text-anchor="middle" textLength="11.62" lengthAdjust="spacingAndGlyphs">2</text>
<text x="1028.58" y="1710.9" text-anchor="middle" textLength="11.62" lengthAdjust="spacingAndGlyphs">4</text>
<text x="1059.22" y="1710.9" text-anchor="middle" textLength="11.62" lengthAdjust="spacingAndGlyphs">6</text>
<text x="1089.86" y="1710.9" text-anchor="middle" textLength="11.62" lengthAdjust="spacingAndGlyphs">8</text>
<text x="1151.14" y="1710.9" text-anchor="middle" textLength="23.25" lengthAdjust="spacingAndGlyphs">12</text>
<text x="1334.98" y="1710.9" text-anchor="middle" textLength="23.25" lengthAdjust="spacingAndGlyphs">24</text>
</g>
<text x="1029.9" y="1744.8" font-family='"Liberation Sans", Arial, Helvetica, sans-serif' font-weight="bold" font-size="22.26" textLength="243" lengthAdjust="spacingAndGlyphs" fill="#000">Time post-treatment [h]</text>
<text transform="translate(856 1628.7) rotate(-90)" font-family='"Liberation Sans", Arial, Helvetica, sans-serif' font-weight="bold" font-size="22.26" textLength="286.9" lengthAdjust="spacingAndGlyphs" fill="#000">Fold change [<tspan font-style="italic">MX1</tspan>] to mock</text>
<text x="788.1" y="1260.1" font-family='"Liberation Sans", Arial, Helvetica, sans-serif' font-weight="bold" font-size="29.9" fill="#000">G</text>
<g fill="#000"><circle cx="967.3" cy="1681" r="5"/><circle cx="997.94" cy="1681" r="5"/><circle cx="1028.58" cy="1581.3" r="5"/><circle cx="1089.86" cy="1508.6" r="5"/><circle cx="1151.14" cy="1484" r="5"/><circle cx="1334.98" cy="1454.7" r="5"/></g><g stroke="#000"><line x1="1028.58" y1="1581.3" x2="1028.58" y2="1570.2" stroke-width="2.7"/><line x1="1023.48" y1="1570.2" x2="1033.68" y2="1570.2" stroke-width="2.6" stroke-linecap="round"/><line x1="1334.98" y1="1454.7" x2="1334.98" y2="1448" stroke-width="2.7"/><line x1="1329.88" y1="1448" x2="1340.08" y2="1448" stroke-width="2.6" stroke-linecap="round"/></g><polyline points="967.3,1681 997.94,1681 1028.58,1581.3 1089.86,1508.6 1151.14,1484 1334.98,1454.7" fill="none" stroke="#ED1C24" stroke-width="4.4" stroke-linejoin="round" stroke-linecap="round"/>
<g fill="#000"><rect x="962.3" y="1676" width="10" height="10"/><rect x="992.94" y="1676" width="10" height="10"/><rect x="1023.58" y="1604.7" width="10" height="10"/><rect x="1084.86" y="1612.2" width="10" height="10"/><rect x="1146.14" y="1592.8" width="10" height="10"/><rect x="1329.98" y="1667.4" width="10" height="10"/></g><g stroke="#000"><line x1="1151.14" y1="1597.8" x2="1151.14" y2="1584" stroke-width="2.7"/><line x1="1146.04" y1="1584" x2="1156.24" y2="1584" stroke-width="2.6" stroke-linecap="round"/><line x1="1334.98" y1="1672.4" x2="1334.98" y2="1641.5" stroke-width="2.7"/><line x1="1329.88" y1="1641.5" x2="1340.08" y2="1641.5" stroke-width="2.6" stroke-linecap="round"/></g><polyline points="967.3,1681 997.94,1681 1028.58,1609.7 1089.86,1617.2 1151.14,1597.8 1334.98,1672.4" fill="none" stroke="#3953A4" stroke-width="4.4" stroke-linejoin="round" stroke-linecap="round"/>
<g fill="#000"><path d="M967.3 1686.22L972.3 1676.72L962.3 1676.72Z"/><path d="M997.94 1686.22L1002.94 1676.72L992.94 1676.72Z"/><path d="M1028.58 1645.92L1033.58 1636.42L1023.58 1636.42Z"/><path d="M1089.86 1667.12L1094.86 1657.62L1084.86 1657.62Z"/><path d="M1151.14 1668.02L1156.14 1658.52L1146.14 1658.52Z"/><path d="M1334.98 1686.22L1339.98 1676.72L1329.98 1676.72Z"/></g><g stroke="#000"><line x1="1028.58" y1="1640.7" x2="1028.58" y2="1617" stroke-width="2.7"/><line x1="1023.48" y1="1617" x2="1033.68" y2="1617" stroke-width="2.6" stroke-linecap="round"/><line x1="1089.86" y1="1661.9" x2="1089.86" y2="1643.4" stroke-width="2.7"/><line x1="1084.76" y1="1643.4" x2="1094.96" y2="1643.4" stroke-width="2.6" stroke-linecap="round"/><line x1="1151.14" y1="1662.8" x2="1151.14" y2="1651.7" stroke-width="2.7"/><line x1="1146.04" y1="1651.7" x2="1156.24" y2="1651.7" stroke-width="2.6" stroke-linecap="round"/><line x1="1334.98" y1="1681" x2="1334.98" y2="1656.7" stroke-width="2.7"/><line x1="1329.88" y1="1656.7" x2="1340.08" y2="1656.7" stroke-width="2.6" stroke-linecap="round"/></g><polyline points="967.3,1681 997.94,1681 1028.58,1640.7 1089.86,1661.9 1151.14,1662.8 1334.98,1681" fill="none" stroke="#7D1238" stroke-width="4.4" stroke-linejoin="round" stroke-linecap="round"/>
<g fill="#000"><path d="M997.94 1675.78L1002.94 1685.28L992.94 1685.28Z"/><path d="M1028.58 1566.38L1033.58 1575.88L1023.58 1575.88Z"/><path d="M1089.86 1489.58L1094.86 1499.08L1084.86 1499.08Z"/><path d="M1151.14 1460.58L1156.14 1470.08L1146.14 1470.08Z"/><path d="M1334.98 1497.28L1339.98 1506.78L1329.98 1506.78Z"/></g><g stroke="#000"><line x1="1089.86" y1="1494.8" x2="1089.86" y2="1493.4" stroke-width="2.7"/><line x1="1084.76" y1="1493.4" x2="1094.96" y2="1493.4" stroke-width="2.6" stroke-linecap="round"/><line x1="1151.14" y1="1465.8" x2="1151.14" y2="1455" stroke-width="2.7"/><line x1="1146.04" y1="1455" x2="1156.24" y2="1455" stroke-width="2.6" stroke-linecap="round"/><line x1="1334.98" y1="1502.5" x2="1334.98" y2="1485.9" stroke-width="2.7"/><line x1="1329.88" y1="1485.9" x2="1340.08" y2="1485.9" stroke-width="2.6" stroke-linecap="round"/></g><polyline points="997.94,1681 1028.58,1571.6 1089.86,1494.8 1151.14,1465.8 1334.98,1502.5" fill="none" stroke="#88D3E0" stroke-width="4.4" stroke-linejoin="round" stroke-linecap="round"/>
<g fill="#000" stroke="none">
<rect x="941.5" y="1868.1" width="4.2" height="405.8"/>
<rect x="936.4" y="2271.8" width="7.2" height="4.2"/>
<rect x="936.4" y="2069.8" width="7.2" height="4.2"/>
<rect x="936.4" y="1868.1" width="7.2" height="4.2"/>
<rect x="936.4" y="2271.8" width="424" height="4.2"/>
<rect x="961.3" y="2273.9" width="4.2" height="7.2"/>
<rect x="992.66" y="2273.9" width="4.2" height="7.2"/>
<rect x="1024.02" y="2273.9" width="4.2" height="7.2"/>
<rect x="1055.38" y="2273.9" width="4.2" height="7.2"/>
<rect x="1086.74" y="2273.9" width="4.2" height="7.2"/>
<rect x="1118.1" y="2273.9" width="4.2" height="7.2"/>
<rect x="1149.46" y="2273.9" width="4.2" height="7.2"/>
<rect x="1180.82" y="2273.9" width="4.2" height="7.2"/>
<rect x="1212.18" y="2273.9" width="4.2" height="7.2"/>
<rect x="1243.54" y="2273.9" width="4.2" height="7.2"/>
<rect x="1274.9" y="2273.9" width="4.2" height="7.2"/>
<rect x="1306.26" y="2273.9" width="4.2" height="7.2"/>
<rect x="1337.62" y="2273.9" width="4.2" height="7.2"/>
</g>
<g font-family='"Liberation Sans", Arial, Helvetica, sans-serif' font-size="23.11" fill="#111" lengthAdjust="spacingAndGlyphs">
<text x="932.1" y="2282.08" text-anchor="end" textLength="11.79" lengthAdjust="spacingAndGlyphs">1</text>
<text x="932.1" y="2080.08" text-anchor="end" textLength="23.58" lengthAdjust="spacingAndGlyphs">10</text>
<text x="932.1" y="1878.38" text-anchor="end" textLength="35.37" lengthAdjust="spacingAndGlyphs">100</text>
<text x="963.4" y="2304.2" text-anchor="middle" textLength="11.79" lengthAdjust="spacingAndGlyphs">0</text>
<text x="994.76" y="2304.2" text-anchor="middle" textLength="11.79" lengthAdjust="spacingAndGlyphs">2</text>
<text x="1026.12" y="2304.2" text-anchor="middle" textLength="11.79" lengthAdjust="spacingAndGlyphs">4</text>
<text x="1057.48" y="2304.2" text-anchor="middle" textLength="11.79" lengthAdjust="spacingAndGlyphs">6</text>
<text x="1088.84" y="2304.2" text-anchor="middle" textLength="11.79" lengthAdjust="spacingAndGlyphs">8</text>
<text x="1151.56" y="2304.2" text-anchor="middle" textLength="23.58" lengthAdjust="spacingAndGlyphs">12</text>
<text x="1339.72" y="2304.2" text-anchor="middle" textLength="23.58" lengthAdjust="spacingAndGlyphs">24</text>
</g>
<text x="1028.7" y="2337.6" font-family='"Liberation Sans", Arial, Helvetica, sans-serif' font-weight="bold" font-size="22.67" textLength="247" lengthAdjust="spacingAndGlyphs" fill="#000">Time post-treatment [h]</text>
<text transform="translate(851.5 2281.3) rotate(-90)" font-family='"Liberation Sans", Arial, Helvetica, sans-serif' font-weight="bold" font-size="23.19" textLength="417" lengthAdjust="spacingAndGlyphs" fill="#000">Fold change [<tspan font-style="italic">RSAD2/VIPERIN</tspan>] to mock</text>
<text x="788.1" y="1827" font-family='"Liberation Sans", Arial, Helvetica, sans-serif' font-weight="bold" font-size="29.9" fill="#000">H</text>
<g fill="#000"><circle cx="963.4" cy="2273.9" r="5.4"/><circle cx="994.76" cy="2116.3" r="5.4"/><circle cx="1088.84" cy="2085.1" r="5.4"/><circle cx="1339.72" cy="2040.5" r="5.4"/></g><g stroke="#000"><line x1="994.76" y1="2116.3" x2="994.76" y2="2111.3" stroke-width="2.7"/><line x1="989.66" y1="2111.3" x2="999.86" y2="2111.3" stroke-width="2.6" stroke-linecap="round"/><line x1="1339.72" y1="2040.5" x2="1339.72" y2="2037.5" stroke-width="2.7"/><line x1="1334.62" y1="2037.5" x2="1344.82" y2="2037.5" stroke-width="2.6" stroke-linecap="round"/></g><polyline points="963.4,2273.9 994.76,2116.3 1088.84,2085.1 1339.72,2040.5" fill="none" stroke="#ED1C24" stroke-width="4.5" stroke-linejoin="round" stroke-linecap="round"/>
<g fill="#000"><rect x="958" y="2268.5" width="10.8" height="10.8"/><rect x="989.36" y="2190" width="10.8" height="10.8"/><rect x="1083.44" y="2132.9" width="10.8" height="10.8"/><rect x="1334.32" y="2173.9" width="10.8" height="10.8"/></g><g stroke="#000"><line x1="994.76" y1="2195.4" x2="994.76" y2="2185.5" stroke-width="2.7"/><line x1="989.66" y1="2185.5" x2="999.86" y2="2185.5" stroke-width="2.6" stroke-linecap="round"/><line x1="1088.84" y1="2138.3" x2="1088.84" y2="2133.2" stroke-width="2.7"/><line x1="1083.74" y1="2133.2" x2="1093.94" y2="2133.2" stroke-width="2.6" stroke-linecap="round"/><line x1="1339.72" y1="2179.3" x2="1339.72" y2="2172.8" stroke-width="2.7"/><line x1="1334.62" y1="2172.8" x2="1344.82" y2="2172.8" stroke-width="2.6" stroke-linecap="round"/></g><polyline points="963.4,2273.9 994.76,2195.4 1088.84,2138.3 1339.72,2179.3" fill="none" stroke="#3953A4" stroke-width="4.5" stroke-linejoin="round" stroke-linecap="round"/>
<g fill="#000"><path d="M963.4 2268.26L968.8 2278.52L958 2278.52Z"/><path d="M994.76 2246.36L1000.16 2256.62L989.36 2256.62Z"/><path d="M1088.84 2215.26L1094.24 2225.52L1083.44 2225.52Z"/><path d="M1339.72 2203.96L1345.12 2214.22L1334.32 2214.22Z"/></g><g stroke="#000"><line x1="994.76" y1="2252" x2="994.76" y2="2238.4" stroke-width="2.7"/><line x1="989.66" y1="2238.4" x2="999.86" y2="2238.4" stroke-width="2.6" stroke-linecap="round"/><line x1="1088.84" y1="2220.9" x2="1088.84" y2="2209.6" stroke-width="2.7"/><line x1="1083.74" y1="2209.6" x2="1093.94" y2="2209.6" stroke-width="2.6" stroke-linecap="round"/><line x1="1339.72" y1="2209.6" x2="1339.72" y2="2199.7" stroke-width="2.7"/><line x1="1334.62" y1="2199.7" x2="1344.82" y2="2199.7" stroke-width="2.6" stroke-linecap="round"/></g><polyline points="963.4,2273.9 994.76,2252 1088.84,2220.9 1339.72,2209.6" fill="none" stroke="#7D1238" stroke-width="4.5" stroke-linejoin="round" stroke-linecap="round"/>
<g fill="#000"><path d="M963.4 2279.54L968.8 2269.28L958 2269.28Z"/><path d="M994.76 2097.84L1000.16 2087.58L989.36 2087.58Z"/><path d="M1088.84 2067.34L1094.24 2057.08L1083.44 2057.08Z"/><path d="M1339.72 2061.14L1345.12 2050.88L1334.32 2050.88Z"/></g><g stroke="#000"><line x1="994.76" y1="2092.2" x2="994.76" y2="2090" stroke-width="2.7"/><line x1="989.66" y1="2090" x2="999.86" y2="2090" stroke-width="2.6" stroke-linecap="round"/><line x1="1088.84" y1="2061.7" x2="1088.84" y2="2059" stroke-width="2.7"/><line x1="1083.74" y1="2059" x2="1093.94" y2="2059" stroke-width="2.6" stroke-linecap="round"/><line x1="1339.72" y1="2055.5" x2="1339.72" y2="2052.6" stroke-width="2.7"/><line x1="1334.62" y1="2052.6" x2="1344.82" y2="2052.6" stroke-width="2.6" stroke-linecap="round"/></g><polyline points="963.4,2273.9 994.76,2092.2 1088.84,2061.7 1339.72,2055.5" fill="none" stroke="#88D3E0" stroke-width="4.5" stroke-linejoin="round" stroke-linecap="round"/>
<text x="255.9" y="35.1" font-family='"DejaVu Sans", sans-serif' font-size="36" textLength="141.4" lengthAdjust="spacingAndGlyphs" fill="#111">HepaRG</text>
<text x="1133.8" y="28.2" font-family='"DejaVu Sans", sans-serif' font-size="36" textLength="68.3" lengthAdjust="spacingAndGlyphs" fill="#111">T84</text>
<g><line x1="585" y1="248.5" x2="613" y2="248.5" stroke="#ED1C24" stroke-width="4" stroke-linecap="round"/><g fill="#000"><circle cx="599" cy="248.5" r="5.5"/></g><text x="629" y="256.2" font-family='"Liberation Sans", Arial, Helvetica, sans-serif' font-size="22.6" fill="#111" textLength="57.4" lengthAdjust="spacingAndGlyphs">IFNλ3</text><line x1="585" y1="286" x2="613" y2="286" stroke="#3953A4" stroke-width="4" stroke-linecap="round"/><g fill="#000"><rect x="593.5" y="280.5" width="11" height="11"/></g><text x="629" y="293.6" font-family='"Liberation Sans", Arial, Helvetica, sans-serif' font-size="22.6" fill="#111" textLength="97.5" lengthAdjust="spacingAndGlyphs">IFNλ4 WT</text><line x1="585" y1="323.3" x2="613" y2="323.3" stroke="#77267D" stroke-width="4" stroke-linecap="round"/><g fill="#000"><path d="M599 317.55L604.5 328L593.5 328Z"/></g><text x="629" y="331" font-family='"Liberation Sans", Arial, Helvetica, sans-serif' font-size="22.6" fill="#111" textLength="116" lengthAdjust="spacingAndGlyphs">IFNλ4 P70S</text><line x1="585" y1="360.7" x2="613" y2="360.7" stroke="#F47C20" stroke-width="4" stroke-linecap="round"/><g fill="#000"><path d="M599 366.45L604.5 356L593.5 356Z"/></g><text x="629" y="368.4" font-family='"Liberation Sans", Arial, Helvetica, sans-serif' font-size="22.6" fill="#111" textLength="112" lengthAdjust="spacingAndGlyphs">IFNλ4 L79F</text><line x1="585" y1="397.8" x2="613" y2="397.8" stroke="#88D3E0" stroke-width="4" stroke-linecap="round"/><g fill="#000"><circle cx="599" cy="397.8" r="5.5"/></g><text x="629" y="405.5" font-family='"Liberation Sans", Arial, Helvetica, sans-serif' font-size="22.6" fill="#111" textLength="128" lengthAdjust="spacingAndGlyphs">IFNλ4 K154E</text></g>
<g><g fill="#000"><circle cx="1402.5" cy="244.5" r="5.25"/></g><line x1="1389" y1="244.5" x2="1416" y2="244.5" stroke="#ED1C24" stroke-width="3.8" stroke-linecap="round"/><text x="1432.4" y="251.7" font-family='"Liberation Sans", Arial, Helvetica, sans-serif' font-size="21.4" fill="#111" textLength="56" lengthAdjust="spacingAndGlyphs">IFNλ3</text><g fill="#000"><rect x="1397.25" y="275.75" width="10.5" height="10.5"/></g><line x1="1389" y1="281" x2="1416" y2="281" stroke="#3953A4" stroke-width="3.8" stroke-linecap="round"/><text x="1432.4" y="288.1" font-family='"Liberation Sans", Arial, Helvetica, sans-serif' font-size="21.4" fill="#111" textLength="94.2" lengthAdjust="spacingAndGlyphs">IFNλ4 WT</text><g fill="#000"><path d="M1402.5 324.49L1407.75 314.51L1397.25 314.51Z"/></g><line x1="1389" y1="319" x2="1416" y2="319" stroke="#7D1238" stroke-width="3.8" stroke-linecap="round"/><text x="1432.4" y="326.1" font-family='"Liberation Sans", Arial, Helvetica, sans-serif' font-size="21.4" fill="#111" textLength="112.8" lengthAdjust="spacingAndGlyphs">IFNλ4 P70S</text><g fill="#000"><path d="M1402.5 347.81L1407.75 357.79L1397.25 357.79Z"/></g><line x1="1389" y1="353.3" x2="1416" y2="353.3" stroke="#88D3E0" stroke-width="3.8" stroke-linecap="round"/><text x="1432.4" y="361" font-family='"Liberation Sans", Arial, Helvetica, sans-serif' font-size="21.4" fill="#111" textLength="127" lengthAdjust="spacingAndGlyphs">IFNλ4 K154E</text></g>
</svg></body></html>
